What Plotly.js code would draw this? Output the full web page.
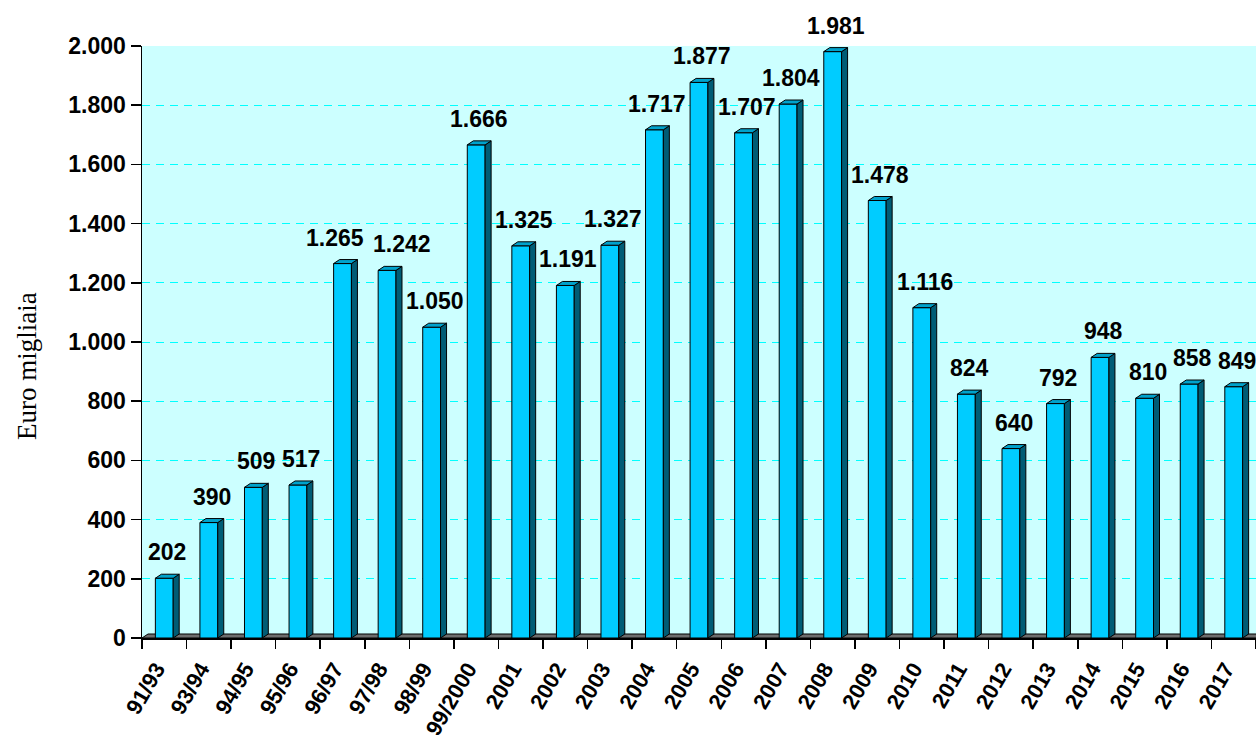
<!DOCTYPE html>
<html>
<head>
<meta charset="utf-8">
<script src="https://cdn.plot.ly/plotly-3.0.1.min.js"></script>
<style>html,body{margin:0;padding:0;background:#fff;}#chart{width:1256px;height:740px;}</style>
</head>
<body>
<div id="chart"></div>
<script>
// ---- data ----
const categories = ['91/93','93/94','94/95','95/96','96/97','97/98','98/99','99/2000',
  '2001','2002','2003','2004','2005','2006','2007','2008','2009','2010','2011','2012',
  '2013','2014','2015','2016','2017'];
const values = [202,390,509,517,1265,1242,1050,1666,1325,1191,1327,1717,1877,1707,1804,
  1981,1478,1116,824,640,792,948,810,858,849];
const yTickValues = [0,200,400,600,800,1000,1200,1400,1600,1800,2000];
const yTitle = 'Euro migliaia';

// ---- layout constants ----
const W = 1256, H = 740;
const M = {l: 142, r: 0, t: 46, b: 102};
const plotW = W - M.l - M.r, plotH = H - M.t - M.b;
const yMax = 2000;
const pxPerCat = plotW / categories.length;
const pxPerUnit = plotH / yMax;
const barW = 0.4;                 // front face width (category units)
const depthX = 6 / pxPerCat;      // 3D depth offset (x, data units)
const depthY = 4 / pxPerUnit;     // 3D depth offset (y, data units)
const xLabelShift = 8 / pxPerCat; // rotated category labels sit slightly left of centre
// horizontal pixel nudges for labels that would collide (as in the original)
const labelNudgePx = {4: -11, 5: 12};

function fmt(v) {
  const s = String(Math.round(v));
  return s.replace(/\B(?=(\d{3})+(?!\d))/g, '.');
}

const idx = categories.map((c, i) => i);

// side faces and top faces of the 3D bars, derived from the values
const sideX = [], sideY = [], topX = [], topY = [];
values.forEach((v, i) => {
  const xl = i - barW / 2, xr = i + barW / 2;
  sideX.push(xr, xr + depthX, xr + depthX, xr, xr, null);
  sideY.push(0, depthY, v + depthY, v, 0, null);
  topX.push(xl, xl + depthX, xr + depthX, xr, xl, null);
  topY.push(v, v + depthY, v + depthY, v, v, null);
});

const traces = [
  {type: 'bar', x: idx, y: values, width: barW,
   marker: {color: '#00CCFF', line: {color: '#000000', width: 1}},
   hoverinfo: 'skip', showlegend: false},
  {type: 'scatter', mode: 'lines', x: sideX, y: sideY, fill: 'toself',
   fillcolor: '#005C75', line: {color: '#000000', width: 1},
   hoverinfo: 'skip', showlegend: false},
  {type: 'scatter', mode: 'lines', x: topX, y: topY, fill: 'toself',
   fillcolor: '#00A2CC', line: {color: '#000000', width: 1},
   hoverinfo: 'skip', showlegend: false}
];

const labelFont = {family: 'Liberation Sans, Arial, sans-serif', size: 23, color: '#000000', weight: 'bold'};
const yTickFont = {family: 'Liberation Sans, Arial, sans-serif', size: 23, color: '#000000', weight: 'bold'};
const xTickFont = {family: 'Liberation Sans, Arial, sans-serif', size: 22, color: '#000000', weight: 'bold'};

const annotations = values.map((v, i) => ({
  x: i + depthX / 2, y: v, xref: 'x', yref: 'y',
  text: fmt(v), showarrow: false, yanchor: 'middle', xanchor: 'center',
  yshift: 26, xshift: labelNudgePx[i] || 0, font: labelFont
}));
annotations.push({
  xref: 'paper', yref: 'paper',
  x: (27 - M.l) / plotW, y: (H - M.b - 366) / plotH,
  text: yTitle, textangle: -90, showarrow: false,
  xanchor: 'center', yanchor: 'middle',
  font: {family: 'Liberation Serif, Times New Roman, serif', size: 27, color: '#000000'}
});

const layout = {
  width: W, height: H,
  margin: M,
  paper_bgcolor: '#FFFFFF',
  plot_bgcolor: '#CCFFFF',
  showlegend: false,
  xaxis: {
    range: [-0.5, categories.length - 0.5],
    tickmode: 'array', tickvals: idx.map(i => i - xLabelShift), ticktext: categories,
    tickangle: -60, tickfont: xTickFont,
    ticks: '', showgrid: false, zeroline: false,
    showline: true, linecolor: '#000000', linewidth: 1.5,
    ticklabelstandoff: 8,
    minor: {tickmode: 'linear', tick0: -0.5, dtick: 1, ticks: 'outside', ticklen: 9,
            tickcolor: '#000000', tickwidth: 1.5, showgrid: false},
    fixedrange: true
  },
  yaxis: {
    range: [0, yMax],
    tickmode: 'array', tickvals: yTickValues, ticktext: yTickValues.map(fmt),
    tickfont: yTickFont,
    ticks: 'outside', ticklen: 10, tickcolor: '#000000', tickwidth: 1.5,
    showline: true, linecolor: '#000000', linewidth: 1.5,
    showgrid: true, gridcolor: '#00FFFF', gridwidth: 1, griddash: '8px,6px',
    zeroline: false, ticklabelstandoff: 0,
    fixedrange: true
  },
  shapes: [{
    type: 'path', xref: 'x', yref: 'y', layer: 'below',
    path: 'M -0.5,0 L ' + (categories.length - 0.5) + ',0 L ' + (categories.length - 0.5 + depthX) + ',' + depthY +
          ' L ' + (-0.5 + depthX) + ',' + depthY + ' Z',
    fillcolor: '#6E6E6E', line: {color: '#000000', width: 1}
  }],
  annotations: annotations
};

Plotly.newPlot('chart', traces, layout, {displayModeBar: false, staticPlot: true});
</script>
</body>
</html>
